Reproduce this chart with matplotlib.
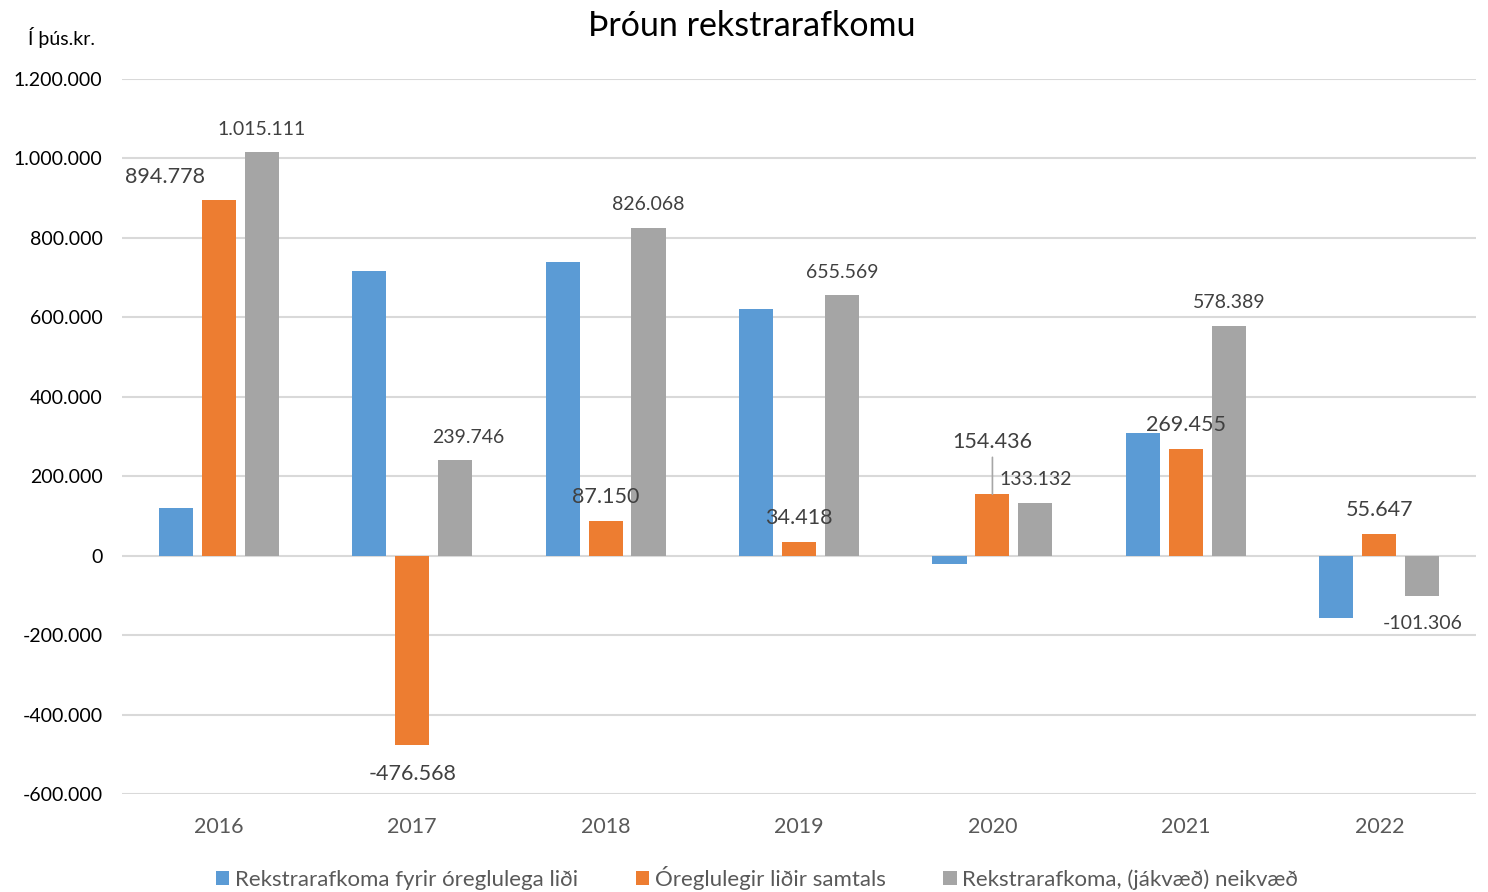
import matplotlib
matplotlib.use("Agg")
import matplotlib.pyplot as plt
from matplotlib.patches import Patch
import numpy as np

plt.rcParams['font.family'] = ['Lato', 'DejaVu Sans']

years = ["2016", "2017", "2018", "2019", "2020", "2021", "2022"]
fyrir = [120333, 716314, 738918, 621151, -21304, 308934, -156953]
oreglulegir = [894778, -476568, 87150, 34418, 154436, 269455, 55647]
afkoma = [1015111, 239746, 826068, 655569, 133132, 578389, -101306]

series_names = ["Rekstrarafkoma fyrir óreglulega liði",
                "Óreglulegir liðir samtals",
                "Rekstrarafkoma, (jákvæð) neikvæð"]
colors = ["#5B9BD5", "#ED7D31", "#A5A5A5"]
yticks = [-600000, -400000, -200000, 0, 200000, 400000, 600000, 800000, 1000000, 1200000]

def fmt(v):
    s = f"{abs(v):,}".replace(",", ".")
    return ("-" if v < 0 else "") + s

W, H = 1488, 892
fig = plt.figure(figsize=(W / 100, H / 100), dpi=100)
ax = fig.add_axes([122 / W, 1 - 794 / H, (1476 - 122) / W, (794 - 79) / H])

x = np.arange(len(years))
bw = 0.176
off = 0.222
for i, (vals, c) in enumerate(zip([fyrir, oreglulegir, afkoma], colors)):
    ax.bar(x + (i - 1) * off, vals, width=bw, color=c, zorder=3, label=series_names[i])

ax.set_xlim(-0.5, len(years) - 0.5)
ax.set_ylim(-600000, 1200000)
ax.set_yticks(yticks)
ax.set_yticklabels([fmt(v) for v in yticks], fontsize=14, color="#000000")
ax.set_xticks(x)
ax.set_xticklabels(years, fontsize=15.5, color="#595959")
ax.tick_params(axis='both', length=0)
ax.tick_params(axis='y', pad=14)
ax.tick_params(axis='x', pad=16.5)
ax.grid(axis='y', color="#D9D9D9", linewidth=1.5, zorder=0)
for s in ax.spines.values():
    s.set_visible(False)

def pt(p):
    return p * 72 / 100

txtc = "#404040"
orange_dx = [-54, 0, 0, 0, 0, 0, 0]
orange_dy = [23, -29, 24, 24, 52, 24, 24]
for i, v in enumerate(oreglulegir):
    ax.annotate(fmt(v), (x[i], v), xytext=(pt(orange_dx[i]), pt(orange_dy[i])),
                textcoords='offset points', ha='center', va='center',
                fontsize=15.5, color=txtc, zorder=5)
i20 = years.index("2020")
ax.annotate("", (x[i20], oreglulegir[i20]), xytext=(0, pt(37)), textcoords='offset points',
            arrowprops=dict(arrowstyle='-', color="#A6A6A6", lw=1.2, shrinkA=0, shrinkB=0))

gray_dx = [0, 13, 0, 0, 0, 0, 0]
for i, v in enumerate(afkoma):
    dy = 23 if v >= 0 else -28
    ax.annotate(fmt(v), (x[i] + off, v), xytext=(pt(gray_dx[i]), pt(dy)),
                textcoords='offset points', ha='center', va='center',
                fontsize=14, color=txtc, zorder=5)

fig.text(752 / W, 1 - 26 / H, "Þróun rekstrarafkomu", ha='center', va='center',
         fontsize=24.5, color="#000000")
fig.text(28 / W, 1 - 37 / H, "Í þús.kr.", ha='left', va='center', fontsize=14, color="#000000")

handles = [Patch(facecolor=c, edgecolor='none') for c in colors]
fig.legend(handles, series_names, loc='center', bbox_to_anchor=(757 / W, 1 - 878 / H),
           ncol=3, frameon=False, fontsize=16, handlelength=0.6, handleheight=0.6,
           handletextpad=0.25, columnspacing=2.6, labelcolor="#595959")

fig.savefig("out.png", dpi=100)
